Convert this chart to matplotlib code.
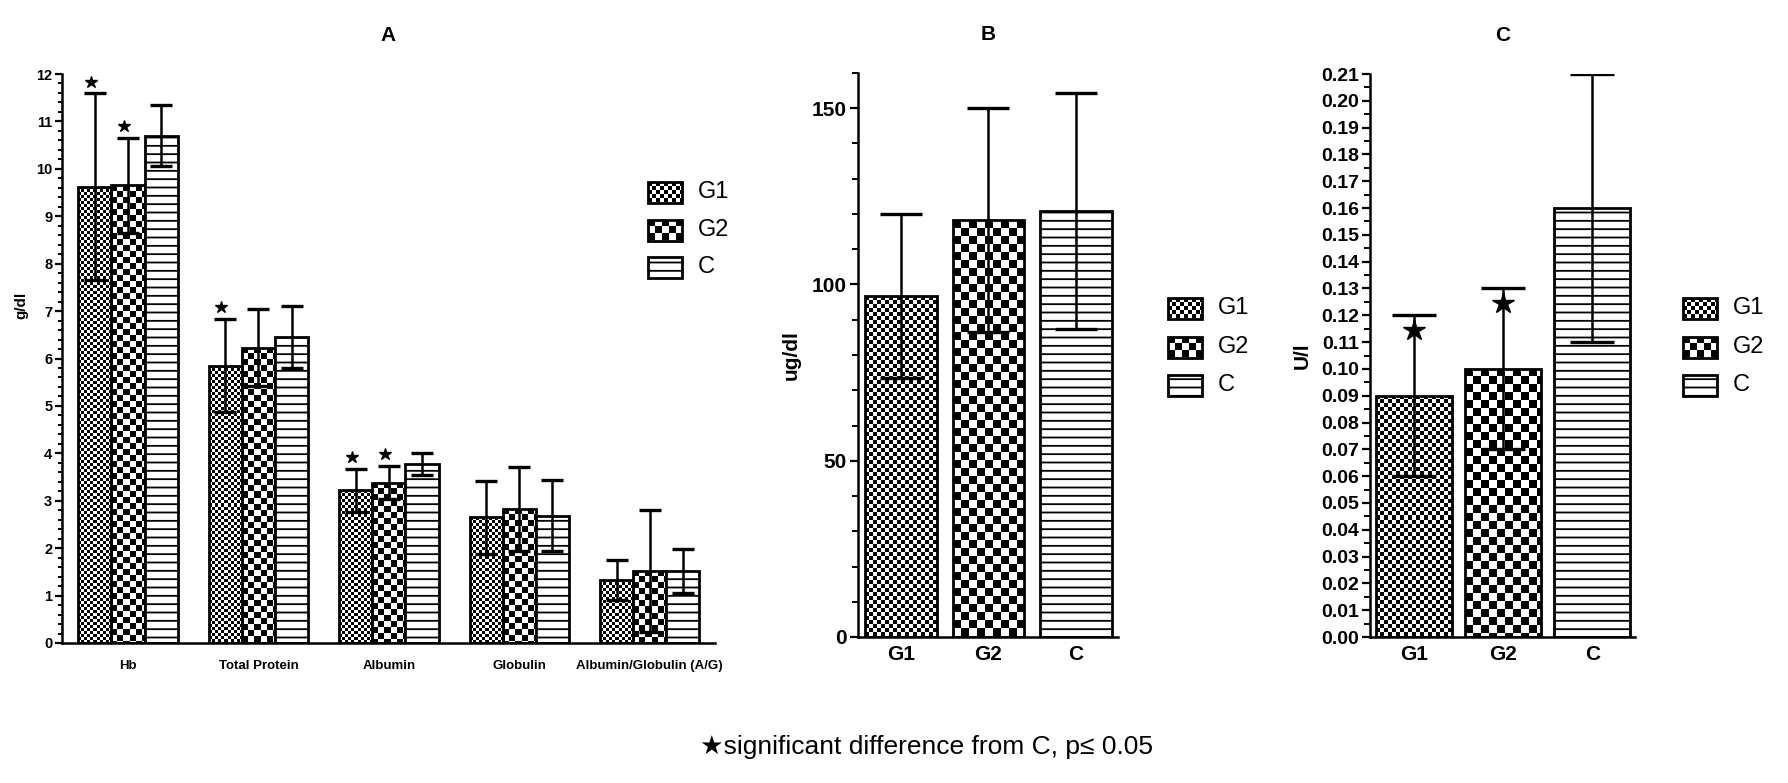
import numpy as np
import matplotlib
matplotlib.use("Agg")
import matplotlib.pyplot as plt
from matplotlib.patches import Rectangle
from matplotlib.ticker import MultipleLocator, FormatStrFormatter

plt.rcParams["font.family"] = ["Liberation Sans", "DejaVu Sans"]
plt.rcParams["hatch.linewidth"] = 1.3

W, H = 1788, 783

# panel A: blood parameters (g/dl)
cats_a = ["Hb", "Total Protein", "Albumin", "Globulin", "Albumin/Globulin (A/G)"]
g1_a = [9.62, 5.85, 3.22, 2.65, 1.33]
g1_a_sd = [1.97, 0.98, 0.46, 0.77, 0.43]
g2_a = [9.65, 6.23, 3.38, 2.83, 1.52]
g2_a_sd = [1.01, 0.82, 0.35, 0.88, 1.28]
c_a = [10.70, 6.45, 3.78, 2.68, 1.52]
c_a_sd = [0.65, 0.66, 0.23, 0.75, 0.47]
g1_a_sig = [True, True, True, False, False]
g2_a_sig = [True, False, True, False, False]

# panel B (ug/dl) and panel C (U/l)
groups = ["G1", "G2", "C"]
vals_b = [96.7, 118.2, 120.9]
sd_b = [23.3, 31.8, 33.4]
vals_c = [0.09, 0.10, 0.16]
sd_c = [0.03, 0.03, 0.05]
sig_c = [True, True, False]

fig = plt.figure(figsize=(W / 100, H / 100), dpi=100)


def px_axes(left, right, top, bottom):
    return fig.add_axes([left / W, 1 - bottom / H, (right - left) / W, (bottom - top) / H])


def checker(ax, rect, cell):
    x0, y0 = rect.get_x(), rect.get_y()
    x1, y1 = x0 + rect.get_width(), y0 + rect.get_height()
    p0 = ax.transData.transform((x0, y0))
    p1 = ax.transData.transform((x1, y1))
    w = max(int(round(abs(p1[0] - p0[0]))), 1)
    h = max(int(round(abs(p1[1] - p0[1]))), 1)
    yy, xx = np.mgrid[0:h, 0:w]
    img = (xx // cell + yy // cell) % 2
    im = ax.imshow(img, cmap="gray", vmin=0, vmax=1, extent=(x0, x1, y0, y1),
                   interpolation="nearest", aspect="auto", zorder=1)
    im.set_clip_path(rect)


def style_axes(ax, lw=1.8):
    for s in ["top", "right"]:
        ax.spines[s].set_visible(False)
    for s in ["left", "bottom"]:
        ax.spines[s].set_linewidth(lw)
    ax.tick_params(axis="x", length=0)


def draw_group(ax, x, means, sds, width, pattern, cells, capsize):
    if pattern == "lines":
        bars = ax.bar(x, means, width, facecolor="white", edgecolor="black",
                      linewidth=2, hatch="--", zorder=2)
    else:
        bars = ax.bar(x, means, width, facecolor="none", edgecolor="black",
                      linewidth=2, zorder=2)
        for r in bars:
            checker(ax, r, cells)
    ax.errorbar(x, means, yerr=sds, fmt="none", ecolor="black", elinewidth=1.8,
                capsize=capsize, capthick=2.4, zorder=3)
    return bars


# ---- panel A
ax_a = px_axes(62, 715, 74, 643)
ax_a.set_xlim(-0.506, 4.5)
ax_a.set_ylim(0, 12)
bw = 0.254
xa = np.arange(len(cats_a))
draw_group(ax_a, xa - bw, g1_a, g1_a_sd, bw, "fine", 3, 8)
draw_group(ax_a, xa, g2_a, g2_a_sd, bw, "coarse", 6, 8)
draw_group(ax_a, xa + bw, c_a, c_a_sd, bw, "lines", 0, 8)
for xs, m, s, sig in [(xa - bw, g1_a, g1_a_sd, g1_a_sig), (xa, g2_a, g2_a_sd, g2_a_sig)]:
    for xi, mi, si, f in zip(xs, m, s, sig):
        if f:
            ax_a.plot(xi - 0.03, mi + si + 0.25, marker="*", ms=9, color="black", zorder=4)
style_axes(ax_a)
ax_a.set_xticks(xa)
ax_a.set_xticklabels(cats_a, fontsize=9.5, fontweight="bold")
ax_a.tick_params(axis="x", pad=12)
ax_a.yaxis.set_major_locator(MultipleLocator(1))
ax_a.yaxis.set_minor_locator(MultipleLocator(0.2))
ax_a.tick_params(axis="y", which="major", length=5, width=1.6, labelsize=10.5, pad=2)
ax_a.tick_params(axis="y", which="minor", length=3, width=1.4)
for t in ax_a.get_yticklabels():
    t.set_fontweight("bold")
ax_a.set_ylabel("g/dl", fontsize=11, fontweight="bold")
ax_a.yaxis.set_label_coords(-0.052, 0.594)
ax_a.set_title("A", fontsize=15, fontweight="bold", pad=24)

# ---- panel B
ax_b = px_axes(858, 1118, 73, 637)
ax_b.set_xlim(-0.49, 2.48)
ax_b.set_ylim(0, 160)
xb = np.arange(3)
for i, (pat, cell) in enumerate([("fine", 4), ("coarse", 8), ("lines", 0)]):
    draw_group(ax_b, [xb[i]], [vals_b[i]], [sd_b[i]], 0.82, pat, cell, 15)
style_axes(ax_b)
ax_b.set_xticks(xb)
ax_b.set_xticklabels(groups, fontsize=15, fontweight="bold")
ax_b.tick_params(axis="x", pad=6)
ax_b.yaxis.set_major_locator(MultipleLocator(50))
ax_b.yaxis.set_minor_locator(MultipleLocator(10))
ax_b.tick_params(axis="y", which="major", length=6, width=1.6, labelsize=15, pad=2)
ax_b.tick_params(axis="y", which="minor", length=4, width=1.4)
for t in ax_b.get_yticklabels():
    t.set_fontweight("bold")
ax_b.set_ylabel("ug/dl", fontsize=15, fontweight="bold")
ax_b.yaxis.set_label_coords(-0.22, 0.5)
ax_b.set_title("B", fontsize=15, fontweight="bold", pad=24)

# ---- panel C
ax_c = px_axes(1370, 1635, 74, 637)
ax_c.set_xlim(-0.494, 2.48)
ax_c.set_ylim(0, 0.21)
xc = np.arange(3)
for i, (pat, cell) in enumerate([("fine", 4), ("coarse", 8), ("lines", 0)]):
    draw_group(ax_c, [xc[i]], [vals_c[i]], [sd_c[i]], 0.85, pat, cell, 16)
for xi, mi, si, f in zip(xc, vals_c, sd_c, sig_c):
    if f:
        ax_c.plot(xi, mi + si - 0.0055, marker="*", ms=16, color="black", zorder=4)
style_axes(ax_c)
ax_c.set_xticks(xc)
ax_c.set_xticklabels(groups, fontsize=15, fontweight="bold")
ax_c.tick_params(axis="x", pad=6)
ax_c.yaxis.set_major_locator(MultipleLocator(0.01))
ax_c.yaxis.set_minor_locator(MultipleLocator(0.005))
ax_c.yaxis.set_major_formatter(FormatStrFormatter("%.2f"))
ax_c.tick_params(axis="y", which="major", length=6, width=1.6, labelsize=14, pad=2)
ax_c.tick_params(axis="y", which="minor", length=4, width=1.4)
for t in ax_c.get_yticklabels():
    t.set_fontweight("bold")
ax_c.set_ylabel("U/l", fontsize=15, fontweight="bold")
ax_c.yaxis.set_label_coords(-0.22, 0.5)
ax_c.set_title("C", fontsize=15, fontweight="bold", pad=24)

# ---- legends drawn on an overlay in pixel units
ov = fig.add_axes([0, 0, 1, 1])
ov.set_xlim(0, W)
ov.set_ylim(H, 0)
ov.axis("off")


def legend_at(x, y_rows):
    for lab, yc, (pat, cell) in zip(groups, y_rows, [("fine", 4), ("coarse", 7), ("lines", 0)]):
        if pat == "lines":
            r = Rectangle((x, yc - 10.5), 34, 21, facecolor="white", edgecolor="black",
                          linewidth=2, hatch="--", zorder=2)
            ov.add_patch(r)
        else:
            r = Rectangle((x, yc - 10.5), 34, 21, facecolor="none", edgecolor="black",
                          linewidth=2, zorder=2)
            ov.add_patch(r)
            checker(ov, r, cell)
        ov.text(x + 50, yc, lab, fontsize=17, va="center", ha="left")


legend_at(648, [192, 230, 267])
legend_at(1168, [308, 347, 385])
legend_at(1683, [308, 347, 385])

fig.text(926 / W, 1 - 747 / H, "\u2605significant difference from C, p\u2264 0.05",
         fontsize=19, ha="center", va="center", family=["Liberation Sans", "DejaVu Sans"])

fig.savefig("out.png", dpi=100)
